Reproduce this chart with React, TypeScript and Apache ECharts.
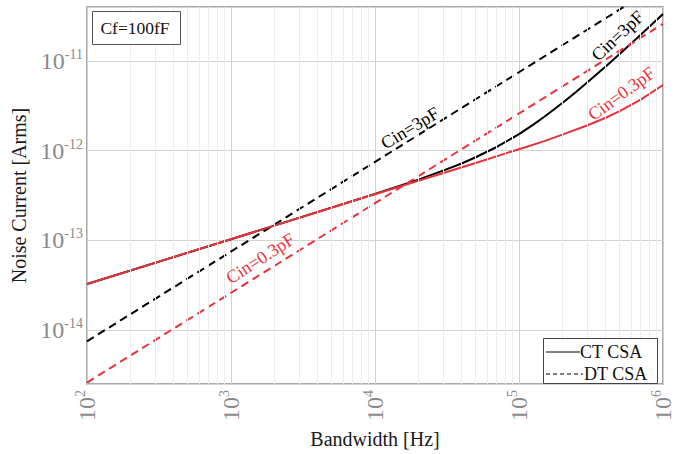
import React, { useEffect, useRef } from 'react';
import * as echarts from 'echarts';

// ---- data (Hz, A rms) ----
const ct03Freq = [100, 200, 500, 1e3, 2e3, 5e3, 1e4, 2e4, 5e4, 1e5, 1.5e5, 2e5, 3e5, 4e5, 5e5, 7e5, 1e6];
const ct03Noise = [3.26e-14, 4.6e-14, 7.3e-14, 1.03e-13, 1.46e-13, 2.31e-13, 3.27e-13, 4.62e-13, 7.3e-13, 1.04e-12, 1.28e-12, 1.51e-12, 1.92e-12, 2.33e-12, 2.76e-12, 3.71e-12, 5.4e-12];

const ct3Freq = [100, 1e3, 1e4, 2e4, 3e4, 4e4, 5e4, 7e4, 1e5, 1.25e5, 1.5e5, 2e5, 2.5e5, 3e5, 4e5, 5e5, 7e5, 1e6];
const ct3Noise = [3.26e-14, 1.03e-13, 3.3e-13, 4.76e-13, 6.03e-13, 7.2e-13, 8.45e-13, 1.1e-12, 1.53e-12, 1.94e-12, 2.39e-12, 3.4e-12, 4.55e-12, 5.83e-12, 8.7e-12, 1.2e-11, 1.96e-11, 3.34e-11];

const dt3Freq = [100, 1e6];
const dt3Noise = [7.5e-15, 7.5e-11];

const dt03Freq = [100, 1e6];
const dt03Noise = [2.6e-15, 2.6e-11];

const xMin = 100;
const xMax = 1e6;
const yMin = 2.5e-15;
const yMax = 4e-11;

const minorMultipliers = [2, 3, 4, 5, 6, 7, 8, 9];
const xDecades = [1e2, 1e3, 1e4, 1e5];
const yDecades = [1e-15, 1e-14, 1e-13, 1e-12, 1e-11];

// annotation anchors (data coords) and angles
const annotations = [
  { text: 'Cin=3pF', f: 1.75e4, v: 1.79e-12, angle: 31, color: '#000000' },
  { text: 'Cin=0.3pF', f: 1.6e3, v: 6.3e-14, angle: 33, color: '#e63238' },
  { text: 'Cin=3pF', f: 4.83e5, v: 1.91e-11, angle: 43, color: '#000000' },
  { text: 'Cin=0.3pF', f: 5.15e5, v: 4.33e-12, angle: 36, color: '#e63238' },
];

const RED = '#e63238';
const FONT = "'Liberation Serif', 'Times New Roman', Times, serif";

const zip = (xs: number[], ys: number[]) => xs.map((x, i) => [x, ys[i]]);

function powLabel(v: number) {
  const e = Math.log10(v);
  const r = Math.round(e);
  if (Math.abs(e - r) > 1e-6) return '';
  return `{b|10}{s|${r}}`;
}

const rich = {
  b: { fontSize: 24, fontFamily: FONT, color: '#8a8a8a', lineHeight: 27 },
  s: { fontSize: 14, fontFamily: FONT, color: '#8a8a8a', verticalAlign: 'top', lineHeight: 14 },
};

export default function App() {
  const ref = useRef<HTMLDivElement>(null);
  useEffect(() => {
    if (!ref.current) return;
    const chart = echarts.init(ref.current, undefined, { renderer: 'svg' });

    const xMinor: any[] = [];
    xDecades.forEach((d) => minorMultipliers.forEach((m) => {
      const v = d * m;
      if (v > xMin && v < xMax) xMinor.push({ xAxis: v });
    }));
    const yMinor: any[] = [];
    yDecades.forEach((d) => minorMultipliers.forEach((m) => {
      const v = d * m;
      if (v > yMin && v < yMax) yMinor.push({ yAxis: v });
    }));

    const dash = [8, 5];

    const option: any = {
      animation: false,
      backgroundColor: '#ffffff',
      grid: {
        left: 87, right: 26, top: 7, bottom: 63,
        show: true, borderColor: '#8c8c8c', borderWidth: 1.5, backgroundColor: 'rgba(0,0,0,0)',
      },
      xAxis: {
        type: 'log', logBase: 10, min: xMin, max: xMax,
        name: 'Bandwidth [Hz]', nameLocation: 'middle', nameGap: 44,
        nameTextStyle: { fontFamily: FONT, fontSize: 20, color: '#1a1a1a' },
        axisLine: { show: false }, axisTick: { show: false },
        splitLine: { show: true, lineStyle: { color: '#d2d2d2', width: 1 } },
        axisLabel: { rotate: 90, margin: 6, formatter: powLabel, rich },
      },
      yAxis: {
        type: 'log', logBase: 10, min: yMin, max: yMax,
        name: 'Noise Current [Arms]', nameLocation: 'middle', nameGap: 47,
        nameTextStyle: { fontFamily: FONT, fontSize: 20, color: '#1a1a1a' },
        axisLine: { show: false }, axisTick: { show: false },
        splitLine: { show: true, lineStyle: { color: '#d2d2d2', width: 1 } },
        axisLabel: { margin: 4, formatter: powLabel, rich },
      },
      series: [
        {
          name: 'minor-grid', type: 'line', z: 1, data: [[1000, 1e-13]],
          symbol: 'none', lineStyle: { width: 0 }, silent: true,
          markLine: {
            silent: true, symbol: ['none', 'none'], label: { show: false },
            lineStyle: { color: '#ececec', width: 1, type: 'solid' },
            emphasis: { disabled: true },
            data: [...xMinor, ...yMinor],
          },
        },
        {
          name: 'DT CSA 3pF', type: 'line', data: zip(dt3Freq, dt3Noise), symbol: 'none', clip: true,
          lineStyle: { color: '#000000', width: 2, type: dash, cap: 'butt' },
        },
        {
          name: 'CT CSA 3pF', type: 'line', data: zip(ct3Freq, ct3Noise), symbol: 'none', smooth: false, clip: true,
          lineStyle: { color: '#000000', width: 2 },
        },
        {
          name: 'DT CSA 0.3pF', type: 'line', data: zip(dt03Freq, dt03Noise), symbol: 'none', clip: true,
          lineStyle: { color: RED, width: 2, type: dash, cap: 'butt' },
        },
        {
          name: 'CT CSA 0.3pF', type: 'line', data: zip(ct03Freq, ct03Noise), symbol: 'none', smooth: false, clip: true,
          lineStyle: { color: RED, width: 2 },
        },
      ],
    };
    chart.setOption(option);

    const annotationGraphics = annotations.map((a) => {
      const p = chart.convertToPixel({ gridIndex: 0 }, [a.f, a.v]) as number[];
      return {
        type: 'text', x: p[0], y: p[1], rotation: (a.angle * Math.PI) / 180, z: 10,
        style: { text: a.text, fontSize: 18, fontFamily: FONT, fill: a.color, align: 'center', verticalAlign: 'middle' },
      };
    });

    chart.setOption({
      graphic: [
        ...annotationGraphics,
        {
          type: 'rect', z: 10, shape: { x: 92.5, y: 11.5, width: 88, height: 33 },
          style: { fill: '#ffffff', stroke: '#555555', lineWidth: 1 },
        },
        {
          type: 'text', z: 11, x: 135, y: 28,
          style: { text: 'Cf=100fF', fontSize: 17.5, fontFamily: FONT, fill: '#111111', align: 'center', verticalAlign: 'middle' },
        },
        {
          type: 'rect', z: 10, shape: { x: 543.5, y: 338.5, width: 114, height: 45 },
          style: { fill: '#ffffff', stroke: '#444444', lineWidth: 1 },
        },
        {
          type: 'line', z: 11, shape: { x1: 546, y1: 352, x2: 580, y2: 352 },
          style: { stroke: '#000000', lineWidth: 1 },
        },
        {
          type: 'text', z: 11, x: 580, y: 352,
          style: { text: 'CT CSA', fontSize: 18, fontFamily: FONT, fill: '#111111', align: 'left', verticalAlign: 'middle' },
        },
        {
          type: 'line', z: 11, shape: { x1: 546, y1: 374, x2: 583, y2: 374 },
          style: { stroke: '#000000', lineWidth: 1, lineDash: [4, 3] },
        },
        {
          type: 'text', z: 11, x: 584, y: 374,
          style: { text: 'DT CSA', fontSize: 18, fontFamily: FONT, fill: '#111111', align: 'left', verticalAlign: 'middle' },
        },
      ],
    });

    return () => chart.dispose();
  }, []);

  return (
    <div
      ref={ref}
      style={{ position: 'fixed', left: 0, top: 0, width: 689, height: 454, background: '#ffffff' }}
    />
  );
}
